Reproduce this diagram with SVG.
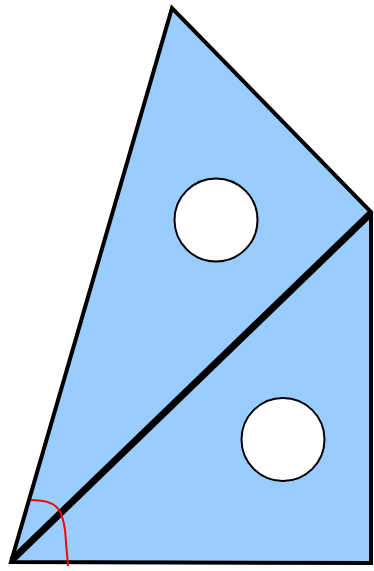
<svg xmlns="http://www.w3.org/2000/svg" width="374" height="571" viewBox="0 0 374 571">
<style>
.shape{fill:#99ccff;stroke:#000;stroke-width:4;stroke-linejoin:miter}
.hole{fill:#fff;stroke:#000;stroke-width:2}
.diag{stroke:#000;stroke-width:7;fill:none}
.angle{stroke:#ff0000;stroke-width:2;fill:none}
</style>
<g id="shape">
<polygon class="shape" points="11,562 172,8 371,212 371,563"/>
</g>
<g id="hole1"><circle class="hole" cx="216" cy="220" r="41.5"/></g>
<g id="hole2"><circle class="hole" cx="283" cy="439.5" r="41.5"/></g>
<g id="connectors">
<line class="diag" x1="12" y1="560" x2="371" y2="213"/>
<path class="angle" d="M31,500 C56,500 62,508 65,530 L68,566"/>
</g>
</svg>
